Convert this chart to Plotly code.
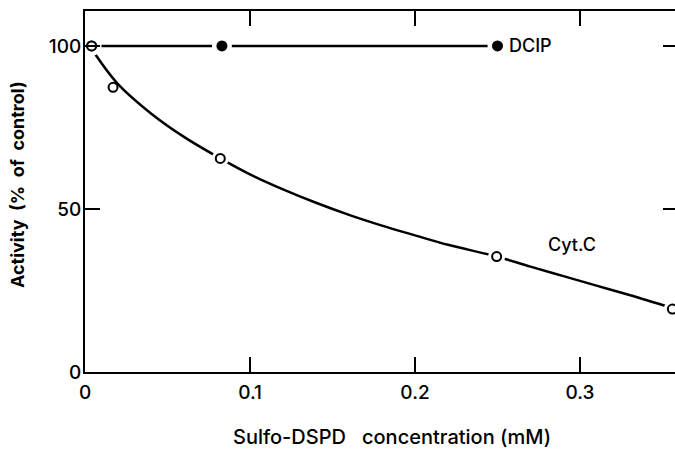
import plotly.graph_objects as go

# ---- data ----
dcip_x = [0.004, 0.083, 0.25]
dcip_y = [100, 100, 100]

cyt_x = [0.004, 0.017, 0.082, 0.2495, 0.356]
cyt_y = [100, 87.3, 65.5, 35.4, 19.3]

# fitted curve drawn through Cyt.C points
curve_x = [0.006, 0.02, 0.04, 0.06, 0.082, 0.10, 0.12, 0.14, 0.16, 0.18, 0.20,
           0.22, 0.2495, 0.27, 0.29, 0.31, 0.33, 0.356]
curve_y = [97.6, 88.3, 79.3, 72.1, 65.5, 60.6, 56.0, 51.9, 48.2, 44.9, 41.9,
           39.0, 35.4, 32.3, 29.4, 26.5, 23.6, 19.6]

x_ticks = [0, 0.1, 0.2, 0.3]
x_tick_text = ["0", "0.1", "0.2", "0.3"]
y_ticks = [0, 50, 100]
y_tick_text = ["0", "50", "100"]

FONT = "Inter"

fig = go.Figure()

# DCIP line
fig.add_trace(go.Scatter(x=dcip_x, y=dcip_y, mode="lines",
                         line=dict(color="black", width=2.5), hoverinfo="skip"))
# Cyt.C curve
fig.add_trace(go.Scatter(x=curve_x, y=curve_y, mode="lines", line_shape="spline",
                         line=dict(color="black", width=2.5), hoverinfo="skip"))
# white halos (gaps in the lines around markers)
fig.add_trace(go.Scatter(x=dcip_x, y=dcip_y, mode="markers",
                         marker=dict(size=20, color="white", line=dict(width=0)),
                         hoverinfo="skip"))
halo_x = [cyt_x[0]] + cyt_x[2:]
halo_y = [cyt_y[0]] + cyt_y[2:]
fig.add_trace(go.Scatter(x=halo_x, y=halo_y, mode="markers",
                         marker=dict(size=17, color="white", line=dict(width=0)),
                         hoverinfo="skip"))
# DCIP filled circles
fig.add_trace(go.Scatter(x=dcip_x, y=dcip_y, mode="markers",
                         marker=dict(size=11, color="black", line=dict(width=0))))
# Cyt.C open circles
fig.add_trace(go.Scatter(x=cyt_x, y=cyt_y, mode="markers",
                         marker=dict(size=9, color="white",
                                     line=dict(width=2, color="black"))))
# dummy trace to activate right-side ticks
fig.add_trace(go.Scatter(x=[None], y=[None], yaxis="y2", showlegend=False))

labfont = dict(family=FONT, size=18, color="black", weight=500)

fig.add_annotation(x=0.2558, y=100, text="DCIP", showarrow=False, xanchor="left",
                   yanchor="middle", font=labfont)
fig.add_annotation(x=0.295, y=39.0, text="Cyt.C", showarrow=False, xanchor="center",
                   yanchor="middle", font=labfont)

# axis titles
fig.add_annotation(xref="paper", yref="paper", x=0.52, y=-0.18,
                   text="Sulfo-DSPD&nbsp;&nbsp;&nbsp;concentration (mM)", showarrow=False,
                   xanchor="center", yanchor="middle",
                   font=dict(family=FONT, size=20, color="black", weight=500))
fig.add_annotation(xref="paper", yref="paper", x=-0.114, y=0.52,
                   text="Activity&nbsp;&nbsp;(%&nbsp;&nbsp;of&nbsp;&nbsp;control)",
                   showarrow=False, textangle=-90, xanchor="center", yanchor="middle",
                   font=dict(family=FONT, size=18, color="black", weight=700))

tickfont = dict(family=FONT, size=19, color="black", weight=500)

fig.update_layout(
    width=675, height=449,
    margin=dict(l=85, r=0, t=11, b=77),
    paper_bgcolor="white", plot_bgcolor="white",
    showlegend=False,
    font=dict(family=FONT, size=17, color="black"),
    xaxis=dict(range=[0, 0.3576], tickvals=x_ticks, ticktext=x_tick_text,
               ticks="inside", ticklen=15, tickwidth=2, tickcolor="black",
               showline=True, linecolor="black", linewidth=2, mirror="ticks",
               showgrid=False, zeroline=False, ticklabelstandoff=2,
               tickfont=tickfont),
    yaxis=dict(range=[0, 110.7], tickvals=y_ticks, ticktext=y_tick_text,
               ticks="inside", ticklen=15, tickwidth=2, tickcolor="black",
               showline=True, linecolor="black", linewidth=2, mirror=False,
               showgrid=False, zeroline=False, ticklabelstandoff=-2,
               tickfont=tickfont),
    yaxis2=dict(range=[0, 110.7], overlaying="y", side="right", tickvals=[50, 100],
                ticks="inside", ticklen=12, tickwidth=2, tickcolor="black",
                showticklabels=False, showline=False, showgrid=False, zeroline=False),
)

fig.write_html("out.html")
